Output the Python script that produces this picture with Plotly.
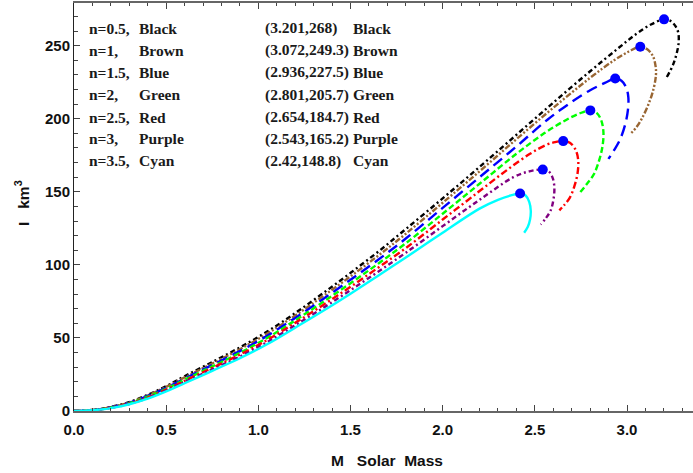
import plotly.graph_objects as go

# ---------------- data ----------------
n_labels = ["n=0.5,", "n=1,", "n=1.5,", "n=2,", "n=2.5,", "n=3,", "n=3.5,"]
color_names = ["Black", "Brown", "Blue", "Green", "Red", "Purple", "Cyan"]
max_labels = ["(3.201,268)", "(3.072,249.3)", "(2.936,227.5)", "(2.801,205.7)",
              "(2.654,184.7)", "(2.543,165.2)", "(2.42,148.8)"]
max_M = [3.201, 3.072, 2.936, 2.801, 2.654, 2.543, 2.42]
max_I = [268, 249.3, 227.5, 205.7, 184.7, 165.2, 148.8]

M_low = [0, 0.05, 0.1, 0.15, 0.2, 0.3, 0.4, 0.5, 0.6, 0.75, 0.9, 1.05, 1.2, 1.35, 1.5, 1.65, 1.8]

# n = 0.5 (black)
M_black = M_low + [2.0, 2.2, 2.4, 2.6, 2.8, 2.95, 3.05, 3.13, 3.201,
                   3.235, 3.262, 3.278, 3.28, 3.27, 3.25, 3.216]
I_black = [0, 0.2, 0.7, 1.5, 2.8, 6.1, 11.1, 17, 23.8, 33.5, 43.5, 54.5, 67, 80.5, 94.5, 109, 124.5,
           145.5, 167, 189, 211, 232.5, 248, 258, 264.5, 268,
           267, 263.5, 259, 252, 245, 237, 228.5]
# n = 1 (brown)
M_brown = M_low + [2.0, 2.2, 2.4, 2.6, 2.8, 2.93, 3.01, 3.072,
                   3.11, 3.14, 3.155, 3.157, 3.145, 3.12, 3.08, 3.05, 3.017]
I_brown = [0, 0.2, 0.7, 1.4, 2.7, 5.8, 10.7, 16.5, 23.0, 32.5, 42.3, 53.1, 65.3, 78.5, 92.1, 106.3, 121.3,
           142.5, 164, 186, 207.5, 228, 240, 246, 249.3,
           247.5, 243, 236, 230, 221, 211, 200, 194, 189.5]
# n = 1.5 (blue)
M_blue = M_low + [2.0, 2.2, 2.4, 2.57, 2.7, 2.8, 2.88, 2.936,
                  2.97, 2.995, 3.007, 3.005, 2.99, 2.963, 2.93, 2.899]
I_blue = [0, 0.2, 0.6, 1.4, 2.6, 5.6, 10.3, 15.8, 22.2, 31.5, 41.0, 51.6, 63.7, 76.5, 89.8, 103.5, 118,
          139, 160, 181, 199.5, 211.5, 219.5, 224.5, 227.5,
          226, 221.5, 215, 206, 196, 186, 178.5, 172.5]
# n = 2 (green)
M_green = M_low + [2.0, 2.2, 2.4, 2.55, 2.66, 2.74, 2.801,
                   2.835, 2.86, 2.872, 2.868, 2.85, 2.82, 2.78, 2.745]
I_green = [0, 0.2, 0.6, 1.3, 2.4, 5.3, 9.8, 15.2, 21.4, 30.5, 39.8, 50.2, 62, 74.5, 87.4, 100.8, 114.8,
           135, 155.5, 176, 190, 198.5, 203.5, 205.7,
           204, 199, 191, 182, 172, 162, 155, 149.5]
# n = 2.5 (red)
M_red = M_low + [2.0, 2.2, 2.35, 2.474, 2.56, 2.61, 2.654,
                 2.69, 2.72, 2.735, 2.732, 2.715, 2.69, 2.66, 2.633]
I_red = [0, 0.2, 0.6, 1.2, 2.3, 5.1, 9.3, 14.6, 20.6, 29.5, 38.6, 48.7, 60.3, 72.4, 85.0, 98.1, 111.5,
         131, 150.5, 165, 176, 182, 184, 184.7,
         183.5, 179, 172, 163, 154, 146, 141, 137.3]
# n = 3 (purple)
M_purple = M_low + [2.0, 2.2, 2.384, 2.47, 2.543,
                    2.575, 2.598, 2.606, 2.6, 2.585, 2.56, 2.532]
I_purple = [0, 0.2, 0.5, 1.2, 2.2, 4.8, 8.9, 14.0, 19.8, 28.5, 37.3, 47.3, 58.7, 70.4, 82.7, 95.3, 108.3,
            126.5, 144.5, 160, 164, 165.2,
            164, 159, 152, 144, 137, 132, 127.6]
# n = 3.5 (cyan)
M_cyan = M_low + [2.0, 2.2, 2.3, 2.37, 2.42,
                  2.45, 2.47, 2.478, 2.474, 2.462, 2.442]
I_cyan = [0, 0.15, 0.5, 1.1, 2.0, 4.6, 8.4, 13.4, 19.0, 27.5, 36.1, 45.8, 57, 68.4, 80.3, 92.6, 105,
          122, 138.5, 144.5, 147.5, 148.8,
          147.5, 143, 137, 131, 126, 122]

curves = [
    (M_black, I_black, "#000000", "5px,3px,2px,3px"),
    (M_brown, I_brown, "#996633", "6px,2px,2px,2px,2px,2px"),
    (M_blue, I_blue, "#0000ff", "11px,6px"),
    (M_green, I_green, "#00ff00", "6px,3px"),
    (M_red, I_red, "#ff0000", "7px,3px,2px,3px"),
    (M_purple, I_purple, "#800080", "5px,3px,2px,3px"),
    (M_cyan, I_cyan, "#00ffff", "solid"),
]

fig = go.Figure()
for xs, ys, col, dash in curves:
    fig.add_trace(go.Scatter(x=xs, y=ys, mode="lines",
                             line=dict(color=col, width=2.4, dash=dash, shape="spline", smoothing=1.0),
                             showlegend=False, hoverinfo="skip"))

fig.add_trace(go.Scatter(x=max_M, y=max_I, mode="markers",
                         marker=dict(color="#0000ff", size=10, line=dict(width=0)),
                         showlegend=False, hoverinfo="skip"))

# ---------------- text block ----------------
serif = dict(family="Liberation Serif", size=15.5, color="#1a1a1a", weight="bold")
row_y = [28, 50, 72, 95, 117, 139, 161]   # pixel rows of the text block
plot_top, plot_h = 3, 408
plot_left, plot_w = 74, 619


def px(xp):
    return (xp - plot_left) / plot_w


def py(yp):
    return 1 - (yp - plot_top) / plot_h


for i in range(len(n_labels)):
    y = py(row_y[i])
    for xp, txt in [(87, n_labels[i]), (137, color_names[i]), (263, max_labels[i]), (351, color_names[i])]:
        fig.add_annotation(x=px(xp), y=y, xref="paper", yref="paper", text=txt,
                           showarrow=False, xanchor="left", yanchor="middle", font=serif)

# axis titles
title_font = dict(family="Liberation Sans", size=15.5, color="#111111", weight="bold")
fig.add_annotation(x=px(387), y=py(460), xref="paper", yref="paper",
                   text="M   Solar  Mass", showarrow=False,
                   xanchor="center", yanchor="middle", font=title_font)
fig.add_annotation(x=px(22), y=py(203), xref="paper", yref="paper",
                   text="I   km<sup>3</sup>", showarrow=False, textangle=-90,
                   xanchor="center", yanchor="middle", font=title_font)

tickfont = dict(family="Liberation Sans", size=15, color="#111111", weight="bold")
fig.update_layout(
    width=693, height=473,
    margin=dict(l=74, r=0, t=3, b=62),
    plot_bgcolor="white", paper_bgcolor="white",
    xaxis=dict(range=[0, 3.358], tickmode="linear", tick0=0, dtick=0.5,
               tickformat=".1f", ticks="inside", ticklen=6, tickwidth=1, tickcolor="#444",
               minor=dict(dtick=0.1, ticks="inside", ticklen=3.5, tickcolor="#444"),
               showline=True, linecolor="#666", linewidth=1.5, mirror="allticks",
               showgrid=False, zeroline=False, tickfont=tickfont,
               ticklabelstandoff=4),
    yaxis=dict(range=[0, 279.2], tickmode="linear", tick0=0, dtick=50,
               ticks="inside", ticklen=6, tickwidth=1, tickcolor="#444",
               minor=dict(dtick=10, ticks="inside", ticklen=3.5, tickcolor="#444"),
               showline=True, linecolor="#222", linewidth=1, mirror=False,
               showgrid=False, zeroline=False, tickfont=tickfont),
)

fig.write_html("out.html")
